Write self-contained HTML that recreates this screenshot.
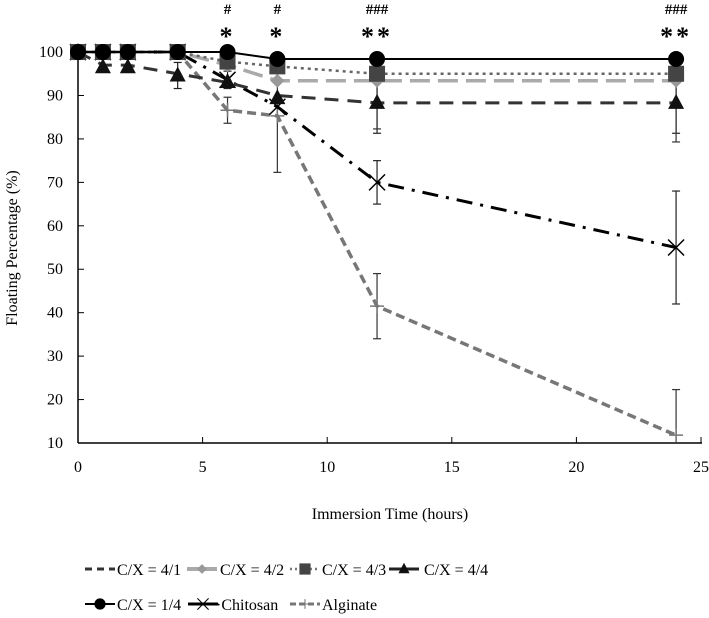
<!DOCTYPE html>
<html><head><meta charset="utf-8"><style>
body{margin:0;background:#fff}
svg{display:block;font-family:"Liberation Serif",serif}
</style></head><body>
<svg id="c" width="709" height="618" viewBox="0 0 709 618"></svg>
<script>
const times=[0,1,2,4,6,8,12,24];
const s41=[100,97,97,95,93,90,88.3,88.3];
const s42=[100,100,100,100,97,93.4,93.4,93.4];
const s43=[100,100,100,100,97.8,96.7,95,95];
const s44=[100,96.5,96.5,94.6,93.1,89.4,88.3,88.3];
const s14=[100,100,100,100,100,98.4,98.4,98.4];
const chi=[100,100,100,100,93.6,87.4,70,55];
const alg=[100,100,100,100,86.6,85.3,41.5,11.8];
const errAlg=[0,0,0,0,3,13,7.5,10.5];
const errChi=[0,0,0,0,2,0,5,13];
const err44=[0,0,0,3,0,0,7,7];
const err41=[0,0,0,0,0,0,6,9];
const xTicks=[0,5,10,15,20,25];
const yTicks=[10,20,30,40,50,60,70,80,90,100];
const annoX=[6,8,12,24];
const annoHash=["#","#","###","###"];
const annoStar=["*","*","**","**"];
const NS="http://www.w3.org/2000/svg";
const svg=document.getElementById('c');
const X=v=>78+v*24.92, Y=v=>443-(v-10)*4.344;
function el(t,a,p){const e=document.createElementNS(NS,t);for(const k in a)e.setAttribute(k,a[k]);(p||svg).appendChild(e);return e;}
let ax=el('line',{x1:78,y1:443,x2:702,y2:443,stroke:'#000','stroke-width':1.5});

let ay=el('line',{x1:78,y1:443,x2:78,y2:48,stroke:'#000','stroke-width':1.5});

xTicks.forEach(t=>{el('line',{x1:X(t),y1:443,x2:X(t),y2:437,stroke:'#000'});
 const tx=el('text',{x:X(t),y:472,'text-anchor':'middle','font-size':16});tx.textContent=t;
 });
yTicks.forEach(t=>{el('line',{x1:78,y1:Y(t),x2:84,y2:Y(t),stroke:'#000'});
 const tx=el('text',{x:63,y:Y(t)+5,'text-anchor':'end','font-size':16});tx.textContent=t;
 });
let xt=el('text',{x:390,y:519,'text-anchor':'middle','font-size':16});xt.textContent='Immersion Time (hours)';

let yt=el('text',{x:17,y:248,'text-anchor':'middle','font-size':16,transform:'rotate(-90 17 248)'});yt.textContent='Floating Percentage (%)';

function errs(vals,e,col){vals.forEach((v,i)=>{if(!e[i])return;const x=X(times[i]);
 const lo=Math.max(v-e[i],10), hi=Math.min(v+e[i],100);
 el('line',{x1:x,y1:Y(lo),x2:x,y2:Y(hi),stroke:col,'stroke-width':1.2});
 [lo,hi].forEach(q=>{if(q>10)el('line',{x1:x-4,y1:Y(q),x2:x+4,y2:Y(q),stroke:col,'stroke-width':1.2});});});}
errs(alg,errAlg,'#333');errs(chi,errChi,'#222');errs(s44,err44,'#222');errs(s41,err41,'#333');
function marker(g,type,x,y,col){
 if(type==='circle')el('circle',{cx:x,cy:y,r:8,fill:col},g);
 else if(type==='square')el('rect',{x:x-8,y:y-8,width:16,height:16,fill:col},g);
 else if(type==='diamond')el('polygon',{points:`${x},${y-7} ${x+7},${y} ${x},${y+7} ${x-7},${y}`,fill:col},g);
 else if(type==='tri')el('polygon',{points:`${x},${y-9} ${x+8},${y+6} ${x-8},${y+6}`,fill:col},g);
 else if(type==='x'){el('path',{d:`M${x-8} ${y-8}L${x+8} ${y+8}M${x+8} ${y-8}L${x-8} ${y+8}`,stroke:col,'stroke-width':1.5,fill:'none'},g);}
 else if(type==='plus'){el('path',{d:`M${x-7} ${y}L${x+7} ${y}M${x} ${y-7}L${x} ${y+7}`,stroke:col,'stroke-width':1.5,fill:'none'},g);}
}
function series(name,vals,col,dash,w,mk,mcol){
 const g=el('g',{});
 el('polyline',{points:vals.map((v,i)=>X(times[i])+','+Y(v)).join(' '),fill:'none',stroke:col,'stroke-width':w,'stroke-dasharray':dash},g);
 if(mk)vals.forEach((v,i)=>marker(g,mk,X(times[i]),Y(v),mcol||col));
}
series('series-alginate',alg,'#777','9 5',3.5,'plus','#777');
series('series-chitosan',chi,'#000','16 8 3 8',3,'x','#000');
series('series-cx-4-1',s41,'#333','14 9',3,null);
series('series-cx-4-4',s44,'#333','14 9',0,'tri','#111');
series('series-cx-4-2',s42,'#aaa','20 8',3.5,'diamond','#999');
series('series-cx-4-3',s43,'#666','3 4',2.5,'square','#444');
series('series-cx-1-4',s14,'#000','',2,'circle','#000');
annoX.forEach((t,i)=>{const h=el('text',{x:X(t),y:14,'text-anchor':'middle','font-size':15,'font-weight':'bold'});h.textContent=annoHash[i];
 
 const s=el('text',{x:X(t),y:45,'text-anchor':'middle','font-size':26,'font-weight':'bold','letter-spacing':'3'});s.textContent=annoStar[i];
 });
const leg=[
 ['C/X = 4/1',85,574,'#333','7 5',3,null,117],['C/X = 4/2',187,574,'#aaa','',4,'diamond',220],
 ['C/X = 4/3',290,574,'#777','2 3',2.5,'square',322],['C/X = 4/4',389,574,'#222','',3,'tri',424],
 ['C/X = 1/4',85,609,'#000','',2,'circle',117],['·Chitosan',188,609,'#000','',3,'x',216],['Alginate',290,609,'#777','6 3',3,'plus',322]];
const mc={diamond:'#999',square:'#444',tri:'#111',circle:'#000',x:'#000',plus:'#777'};
leg.forEach(l=>{const g=el('g',{});
 el('line',{x1:l[1],y1:l[2]-5,x2:l[1]+30,y2:l[2]-5,stroke:l[3],'stroke-width':l[5],'stroke-dasharray':l[4]},g);
 if(l[6]){const m=l[6];const gg=el('g',{transform:`translate(${l[1]+15},${l[2]-5}) scale(0.7) translate(${-(l[1]+15)},${-(l[2]-5)})`},g);marker(gg,m,l[1]+15,l[2]-5,mc[m]);}
 const t=el('text',{x:l[7],y:l[2]+1,'font-size':16},g);t.textContent=l[0];});
</script>
</body></html>
